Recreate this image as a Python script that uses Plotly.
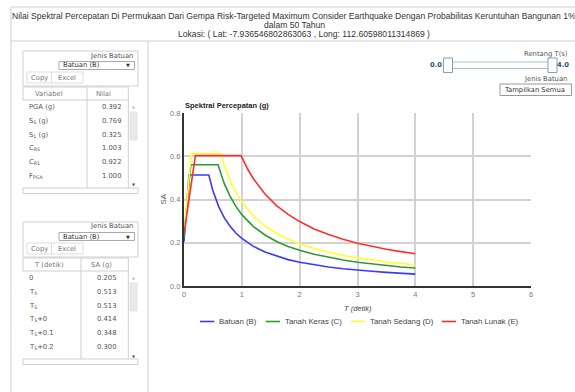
import plotly.graph_objects as go

W, H = 575, 392

# ---------------- chart data ----------------
t_b = [0, 0.086, 0.429, 0.5, 0.6, 0.7, 0.8, 0.9, 1.0, 1.2, 1.4, 1.6, 1.8, 2.0, 2.25, 2.5, 2.75, 3.0, 3.25, 3.5, 3.75, 4.0]
sa_b = [0.205, 0.513, 0.513, 0.44, 0.367, 0.314, 0.275, 0.244, 0.22, 0.183, 0.157, 0.138, 0.122, 0.11, 0.098, 0.088, 0.080, 0.073, 0.068, 0.063, 0.059, 0.055]

t_c = [0, 0.118, 0.588, 0.7, 0.8, 0.9, 1.0, 1.2, 1.4, 1.6, 1.8, 2.0, 2.25, 2.5, 2.75, 3.0, 3.25, 3.5, 3.75, 4.0]
sa_c = [0.224, 0.561, 0.561, 0.471, 0.413, 0.367, 0.33, 0.275, 0.236, 0.206, 0.183, 0.165, 0.147, 0.132, 0.12, 0.11, 0.102, 0.094, 0.088, 0.083]

t_d = [0, 0.127, 0.636, 0.7, 0.8, 0.9, 1.0, 1.2, 1.4, 1.6, 1.8, 2.0, 2.25, 2.5, 2.75, 3.0, 3.25, 3.5, 3.75, 4.0]
sa_d = [0.245, 0.612, 0.612, 0.556, 0.486, 0.432, 0.389, 0.324, 0.278, 0.243, 0.216, 0.195, 0.173, 0.156, 0.141, 0.130, 0.120, 0.111, 0.104, 0.097]

t_e = [0, 0.197, 0.987, 1.1, 1.2, 1.4, 1.6, 1.8, 2.0, 2.25, 2.5, 2.75, 3.0, 3.25, 3.5, 3.75, 4.0]
sa_e = [0.241, 0.603, 0.603, 0.541, 0.496, 0.425, 0.372, 0.331, 0.298, 0.264, 0.238, 0.216, 0.198, 0.183, 0.170, 0.159, 0.149]

series_names = ["Batuan (B)", "Tanah Keras (C)", "Tanah Sedang (D)", "Tanah Lunak (E)"]
series_t = [t_b, t_c, t_d, t_e]
series_sa = [sa_b, sa_c, sa_d, sa_e]
series_colors = ["#3a3aff", "#2f9a2f", "#ffff2e", "#ff2e2e"]

x_ticks = [0, 1, 2, 3, 4, 5, 6]
y_ticks = [0.0, 0.2, 0.4, 0.6, 0.8]

# ---------------- table data ----------------
var_names = ["PGA (g)", "S<sub>S</sub> (g)", "S<sub>1</sub> (g)", "C<sub>RS</sub>", "C<sub>R1</sub>", "F<sub>PGA</sub>"]
var_values = ["0.392", "0.769", "0.325", "1.003", "0.922", "1.000"]
t_labels = ["0", "T<sub>0</sub>", "T<sub>S</sub>", "T<sub>S</sub>+0", "T<sub>S</sub>+0.1", "T<sub>S</sub>+0.2"]
sa_values = ["0.205", "0.513", "0.513", "0.414", "0.348", "0.300"]

header_line1 = "Nilai Spektral Percepatan Di Permukaan Dari Gempa Risk-Targeted Maximum Consider Earthquake Dengan Probabilitas Keruntuhan Bangunan 1%"
header_line2 = "dalam 50 Tahun"
header_line3 = "Lokasi: ( Lat: -7.936546802863063 , Long: 112.60598011314869 )"

# ---------------- helpers (pixel -> paper) ----------------
def px(x):
    return x / W


def py(y):
    return 1 - y / H


shapes = []
annotations = []


def rect(x0, y0, x1, y1, color="#cfcfcf", fill="rgba(0,0,0,0)", width=1):
    shapes.append(dict(type="rect", xref="paper", yref="paper",
                       x0=px(x0), x1=px(x1), y0=py(y1), y1=py(y0),
                       line=dict(color=color, width=width), fillcolor=fill, layer="below"))


def hline(x0, x1, y, color="#cfcfcf", width=1):
    shapes.append(dict(type="line", xref="paper", yref="paper",
                       x0=px(x0), x1=px(x1), y0=py(y), y1=py(y),
                       line=dict(color=color, width=width)))


def vline(x, y0, y1, color="#cfcfcf", width=1):
    shapes.append(dict(type="line", xref="paper", yref="paper",
                       x0=px(x), x1=px(x), y0=py(y0), y1=py(y1),
                       line=dict(color=color, width=width)))


def text(x, y, s, size=7, color="#555555", anchor="left", family="DejaVu Sans", angle=0):
    annotations.append(dict(x=px(x), y=py(y), xref="paper", yref="paper", text=s,
                            showarrow=False, xanchor=anchor, yanchor="middle",
                            borderpad=0, textangle=angle,
                            font=dict(size=size, color=color, family=family)))


# ---------------- page frame ----------------
hline(11, 575, 7)
vline(11, 7, 392)
hline(11, 575, 41)
vline(148, 41, 392)

AR = "Liberation Sans, Arial, sans-serif"
text(293.5, 16, header_line1, size=8.6, color="#333333", anchor="center", family=AR)
text(294, 25.5, header_line2, size=8.6, color="#333333", anchor="center", family=AR)
text(304, 34.5, header_line3, size=8.6, color="#333333", anchor="center", family=AR)


# ---------------- data tables ----------------
def table(top, col_titles, col_mid_x, labels, values, val_right, divider):
    # top box with selector and buttons
    rect(23, top, 138, top + 35)
    text(134, top + 4.5, "Jenis Batuan", size=6.8, color="#555555", anchor="right")
    rect(59, top + 10.5, 134.5, top + 18.5, color="#aaaaaa")
    text(62, top + 14.5, "Batuan (B)", size=6.8, color="#333333")
    text(131, top + 14.5, "▼", size=5, color="#333333", anchor="right")
    rect(27, top + 21, 51.5, top + 32, color="#dddddd")
    rect(51.5, top + 21, 83, top + 32, color="#dddddd")
    text(39.5, top + 26.5, "Copy", size=6.8, color="#777777", anchor="center")
    text(67, top + 26.5, "Excel", size=6.8, color="#777777", anchor="center")
    # header row
    hy0, hy1 = top + 36, top + 49
    rect(23, hy0, 128.3, hy1)
    vline(divider, hy0, top + 137)
    vline(128.3, hy1, top + 137)
    text(col_mid_x[0], (hy0 + hy1) / 2 + 0.5, col_titles[0], size=6.8, color="#777777", anchor="center")
    text(col_mid_x[1], (hy0 + hy1) / 2 + 0.5, col_titles[1], size=6.8, color="#777777", anchor="center")
    # rows
    for i, (lab, val) in enumerate(zip(labels, values)):
        yy = top + 56 + i * 13.8
        text(28, yy, lab, size=6.8, color="#555555")
        text(val_right, yy, val, size=6.8, color="#555555", anchor="right")
    # scrollbar
    rect(130, top + 61, 137, top + 89, color="#e4e4e4", fill="#e9e9e9")
    text(133.5, top + 55, "▲", size=4, color="#bbbbbb", anchor="center")
    text(133.5, top + 134, "▼", size=4, color="#555555", anchor="center")
    # bottom bar
    rect(23, top + 137, 138, top + 142.5)


table(51, ["Variabel", "Nilai"], [49, 103.5], var_names, var_values, 121.7, 87)
table(222, ["T (detik)", "SA (g)"], [49, 101.7], t_labels, sa_values, 116.7, 81)

# ---------------- slider & selector (top right) ----------------
text(569, 54, "Rentang T(s)", size=6.8, color="#555555", anchor="right")
text(436, 65.5, "<b>0.0</b>", size=6.8, color="#3a4f66", anchor="center")
text(562.5, 65.5, "<b>4.0</b>", size=6.8, color="#3a4f66", anchor="center")
rect(446, 62, 553, 68.5, color="#a9bfd6", fill="#ffffff")
shapes.append(dict(type="rect", xref="paper", yref="paper", x0=px(443.5), x1=px(452.5),
                   y0=py(72.5), y1=py(58), line=dict(color="#7f9fc5", width=1), fillcolor="#ffffff"))
shapes.append(dict(type="rect", xref="paper", yref="paper", x0=px(548), x1=px(557),
                   y0=py(72.5), y1=py(58), line=dict(color="#7f9fc5", width=1), fillcolor="#ffffff"))
text(568, 78.5, "Jenis Batuan", size=6.8, color="#555555", anchor="right")
rect(500, 84, 571.5, 95.5, color="#999999")
text(503, 90, "Tampilkan Semua", size=6.8, color="#333333")

# ---------------- chart ----------------
X0, X1, Y0, Y1 = 184, 531, 286, 113
fig = go.Figure()
for name, tt, ss, col in zip(series_names, series_t, series_sa, series_colors):
    fig.add_trace(go.Scatter(x=tt, y=ss, mode="lines", name=name,
                             line=dict(color=col, width=1.6), showlegend=False,
                             hoverinfo="x+y+name"))

text(184, 105.5, "<b>Spektral Percepatan (g)</b>", size=7.5, color="#222222", family=AR)
text(163, 199.5, "SA", size=8, color="#555555", anchor="center", family=AR, angle=-90)
text(357.5, 308, "<i>T (detik)</i>", size=7.5, color="#444444", anchor="center", family=AR)

# custom legend
leg_x = [200, 265.7, 351, 441.7]
for name, col, lx in zip(series_names, series_colors, leg_x):
    hline(lx, lx + 14.3, 321.5, color=col, width=1.6)
    text(lx + 18, 321.5, name, size=7.8, color="#444444", family=AR)

fig.update_layout(
    width=W, height=H, autosize=False,
    margin=dict(l=0, r=0, t=0, b=0),
    paper_bgcolor="white", plot_bgcolor="white",
    template="none",
    shapes=shapes, annotations=annotations,
    showlegend=False,
    xaxis=dict(domain=[px(X0), px(X1)], range=[0, 6], tickvals=x_ticks,
               ticktext=[str(v) for v in x_ticks],
               showgrid=True, gridcolor="#d2d2d2", gridwidth=1.5,
               showline=True, linecolor="#333333", linewidth=2,
               zeroline=False, ticks="", automargin=False, fixedrange=True,
               tickfont=dict(size=7.5, color="#777777", family=AR)),
    yaxis=dict(domain=[py(Y0), py(Y1)], range=[0, 0.8], tickvals=y_ticks,
               tickformat=".1f",
               showgrid=True, gridcolor="#d2d2d2", gridwidth=1.5,
               showline=True, linecolor="#333333", linewidth=2,
               zeroline=False, ticks="", automargin=False, fixedrange=True,
               tickfont=dict(size=7.5, color="#777777", family=AR)),
)

fig.write_html(
    "out.html",
    config={"displayModeBar": False},
    post_script="document.body.style.margin='0px';document.body.style.overflow='hidden';",
)
